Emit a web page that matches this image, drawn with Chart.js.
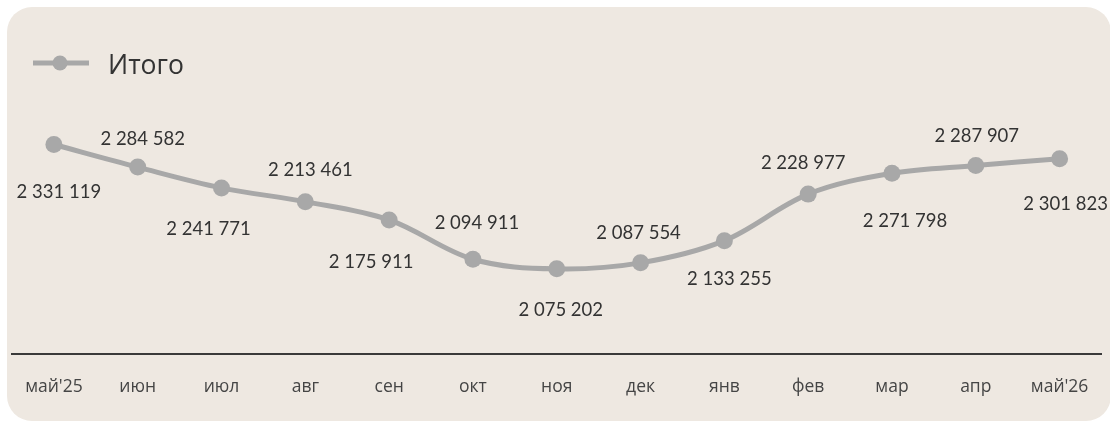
<!DOCTYPE html>
<html><head><meta charset="utf-8">
<script src="https://cdn.jsdelivr.net/npm/chart.js@4.4.0/dist/chart.umd.min.js"></script>
<style>
html,body{margin:0;padding:0;background:#fff;width:1110px;height:424px;overflow:hidden}
#card{position:absolute;left:7px;top:7px;width:1104px;height:414px;border-radius:25px;background:#EEE8E1}
#c{position:absolute;left:0;top:0}
</style></head><body>
<div id="card"></div>
<canvas id="c" width="1110" height="424"></canvas>
<script>
const categories = ["май'25","июн","июл","авг","сен","окт","ноя","дек","янв","фев","мар","апр","май'26"];
const seriesName = "Итого";
const totals = [2331119,2284582,2241771,2213461,2175911,2094911,2075202,2087554,2133255,2228977,2271798,2287907,2301823];
const yMin = 1900000;
const yMax = 2400000;
// data-label placement relative to each point (layout only)
const labelOffsets = [[5,47],[5,-29],[-13,41],[5,-32],[-18,42],[4,-37],[4,41],[-2,-30],[5,38],[-5,-32],[13,47],[1,-30],[6,45]];

const LINE = '#A8A8A8';
function fmt(n){ return String(n).replace(/\B(?=(\d{3})+(?!\d))/g, ' '); }

const overlay = {
  id: 'overlay',
  afterDatasetsDraw(chart){
    const ctx = chart.ctx;
    const meta = chart.getDatasetMeta(0);
    const ds = chart.data.datasets[0];
    ctx.save();
    ctx.font = '18.5px Lato';
    ctx.fillStyle = '#333333';
    ctx.textAlign = 'center';
    ctx.textBaseline = 'alphabetic';
    meta.data.forEach((pt, i) => {
      const o = labelOffsets[i];
      ctx.fillText(fmt(ds.data[i]), pt.x + o[0], pt.y + o[1] + 6.5);
    });
    // legend
    ctx.strokeStyle = LINE; ctx.lineWidth = 5; ctx.lineCap = 'butt';
    ctx.beginPath(); ctx.moveTo(33, 63); ctx.lineTo(89, 63); ctx.stroke();
    ctx.fillStyle = LINE;
    ctx.beginPath(); ctx.arc(60, 63, 7.5, 0, Math.PI*2); ctx.fill();
    ctx.font = '26.5px "Open Sans"';
    ctx.fillStyle = '#333333';
    ctx.textAlign = 'left';
    ctx.fillText(ds.label, 108, 74);
    ctx.restore();
  }
};

new Chart(document.getElementById('c'), {
  type: 'line',
  data: {
    labels: categories,
    datasets: [{
      label: seriesName,
      data: totals,
      borderColor: LINE,
      backgroundColor: LINE,
      borderWidth: 5,
      pointRadius: 8.5,
      pointHoverRadius: 8.5,
      pointBorderWidth: 0,
      pointBackgroundColor: LINE,
      tension: 0.35,
      fill: false
    }]
  },
  options: {
    responsive: false,
    animation: false,
    events: [],
    layout: { padding: { left: 12, right: 7, top: 111, bottom: 10 } },
    plugins: { legend: { display: false }, tooltip: { enabled: false } },
    scales: {
      y: { display: false, min: yMin, max: yMax },
      x: {
        offset: true,
        grid: { display: false },
        border: { display: true, color: '#3A3A3A', width: 2 },
        ticks: { color: '#454545', font: { family: 'Open Sans', size: 17.5 }, padding: 15, maxRotation: 0, autoSkip: false },
        afterFit(scale){ scale.height = 60; }
      }
    }
  },
  plugins: [overlay]
});
</script>
</body></html>
